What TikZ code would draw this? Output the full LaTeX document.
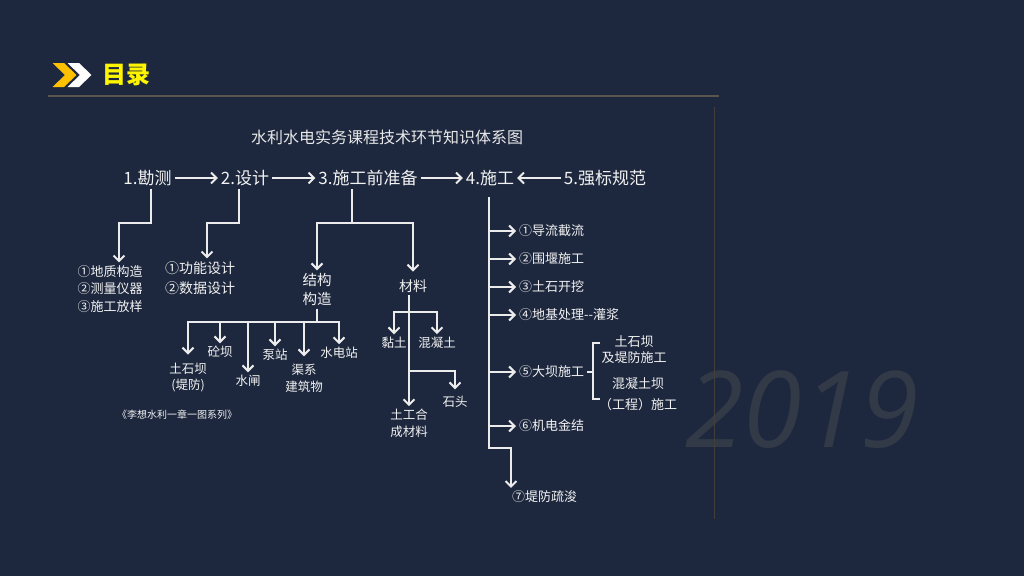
\documentclass[tikz,border=0pt]{standalone}
\usepackage{fontspec}
\setmainfont{Noto Sans CJK SC}
\newfontfamily\wmfont{Open Sans}
\usetikzlibrary{arrows.meta,calc}
\definecolor{bg}{RGB}{29,40,62}
\definecolor{fg}{RGB}{242,242,242}
\definecolor{ln}{RGB}{236,236,236}
\definecolor{sepc}{RGB}{90,84,78}
\definecolor{vlinec}{RGB}{66,62,58}
\definecolor{wmc}{RGB}{50,58,72}
\definecolor{chevy}{RGB}{255,192,0}
\definecolor{titley}{RGB}{255,245,0}
\definecolor{titlec}{RGB}{232,232,232}
\begin{document}
\begin{tikzpicture}[x=1pt,y=-1pt,
  lbl/.style={text=fg,inner sep=0pt,outer sep=3pt,align=center},
  fmain/.style={font=\fontsize{17}{20}\selectfont},
  fsm/.style={font=\fontsize{12.5}{16.5}\selectfont},
  fmd/.style={font=\fontsize{13}{17}\selectfont},
  conn/.style={draw=ln,line width=2pt},
  arr/.style={conn,-{Straight Barb[length=5.5pt,width=11pt]}}
]
\fill[bg] (0,0) rectangle (1024,576);
\useasboundingbox (0,0) rectangle (1024,576);
% header
\fill[chevy] (52.5,63) -- (64,63) -- (76.5,75) -- (64,87) -- (52.5,87) -- (65,75) -- cycle;
\fill[white] (67.5,63) -- (79,63) -- (91.5,75) -- (79,87) -- (67.5,87) -- (80,75) -- cycle;
\node[text=titley,inner sep=0pt,font=\fontsize{24}{26}\selectfont\bfseries] (hdr) at (126,75) {目录};
\draw[sepc,line width=2pt] (48,96) -- (719,96);
% watermark
\node[text=wmc,inner sep=0pt,font=\wmfont\itshape\fontsize{106}{110}\selectfont] (yr) at (802,410) {2019};
\draw[vlinec,line width=1pt] (714,107) -- (714,519);
% title
\node[lbl,text=titlec,font=\fontsize{16}{18}\selectfont] (ttl) at (387,137) {水利水电实务课程技术环节知识体系图};
% main row
\node[lbl,fmain] (n1) at (147.5,178) {1.勘测};
\node[lbl,fmain] (n2) at (245,178) {2.设计};
\node[lbl,fmain] (n3) at (368,178) {3.施工前准备};
\node[lbl,fmain] (n4) at (490,178) {4.施工};
\node[lbl,fmain] (n5) at (605,178) {5.强标规范};
\draw[arr] (n1) -- (n2);
\draw[arr] (n2) -- (n3);
\draw[arr] (n3) -- (n4);
\draw[arr] (n5) -- (n4);
% 1 and 2 lists
\node[lbl,align=left,font=\fontsize{13}{17.5}\selectfont] (l1) at (110,289) {①地质构造\\②测量仪器\\③施工放样};
\node[lbl,align=left,font=\fontsize{14}{20}\selectfont] (l2) at (200,278) {①功能设计\\②数据设计};
\coordinate (k1) at (119,223);
\coordinate (k2) at (207,223);
\draw[arr] ([xshift=3.5pt]n1.south) |- (k1) -- (k1 |- l1.north);
\draw[arr] ([xshift=-6pt]n2.south) |- (k2) -- (k2 |- l2.north);
% 3 branch
\node[lbl,font=\fontsize{14.5}{19}\selectfont] (s1) at (317,289.5) {结构\\构造};
\node[lbl,font=\fontsize{14}{18}\selectfont] (m1) at (413,286) {材料};
\coordinate (j3) at (352,223);
\draw[conn] ([xshift=-16pt]n3.south) -- (j3);
\draw[arr] (j3) -| (s1.north);
\draw[arr] (j3) -| ([yshift=5pt]m1.north);
% structure children
\node[lbl,fsm,font=\fontsize{12.5}{16}\selectfont] (c1) at (188,377) {土石坝\\(堤防)};
\node[lbl,fsm] (c2) at (220,352) {砼坝};
\node[lbl,fsm] (c3) at (248,381) {水闸};
\node[lbl,fsm] (c4) at (275,355) {泵站};
\node[lbl,fsm,font=\fontsize{12.5}{17}\selectfont] (c5) at (304,378.5) {渠系\\建筑物};
\node[lbl,fsm] (c6) at (339,353) {水电站};
\coordinate (j4) at (317,322);
\draw[conn] (s1.south) -- (j4);
\draw[arr] (j4) -| ([yshift=5pt]c1.north);
\draw[arr] (j4) -| (c2.north);
\draw[arr] (j4) -| (c3.north);
\draw[arr] (j4) -| (c4.north);
\draw[arr] (j4) -| ([yshift=5pt]c5.north);
\draw[arr] (j4) -| (c6.north);
% material children
\node[lbl,fsm,font=\fontsize{12.5}{17}\selectfont] (m5) at (409,423.5) {土工合\\成材料};
\node[lbl,fsm] (m2) at (394,343) {黏土};
\node[lbl,fsm] (m3) at (437,343) {混凝土};
\node[lbl,fsm] (m4) at (455,402) {石头};
\coordinate (j5) at (409,312);
\coordinate (j6) at (409,371);
\draw[arr] ([xshift=-4pt]m1.south) -- (m5.north);
\draw[arr] (j5) -| (m2.north);
\draw[arr] (j5) -| (m3.north);
\draw[arr] (j6) -| ([yshift=4pt]m4.north);
% construction branch
\node[lbl,fmd,anchor=west] (p1) at (516,231) {①导流截流};
\node[lbl,fmd,anchor=west] (p2) at (516,259) {②围堰施工};
\node[lbl,fmd,anchor=west] (p3) at (516,287) {③土石开挖};
\node[lbl,fmd,anchor=west] (p4) at (516,315) {④地基处理-{}-灌浆};
\node[lbl,fmd,anchor=west] (p5) at (516,372) {⑤大坝施工};
\node[lbl,fmd,anchor=west] (p6) at (516,426) {⑥机电金结};
\node[lbl,fmd,anchor=west] (p7) at (509,497) {⑦堤防疏浚};
\coordinate (t0) at (489,197);
\coordinate (j7) at (511,448);
\draw[arr] (t0) |- (j7) -- (j7 |- p7.north);
\foreach \p in {p1,p2,p3,p4,p5,p6} \draw[arr] (\p.west -| t0) -- (\p.west);
% bracket for dam construction
\coordinate (b0) at (593,372);
\coordinate (bt) at (593,343);
\coordinate (bb) at (593,399);
\draw[conn,line width=1.6pt] (p5.east) -- (b0);
\draw[conn,line width=1.6pt] ([xshift=7pt]bt) -- (bt) -- (bb) -- ([xshift=7pt]bb);
\node[lbl,font=\fontsize{13}{16}\selectfont] (q1) at (634,350) {土石坝\\及堤防施工};
\node[lbl,font=\fontsize{13}{21}\selectfont] (q2) at (638,394.5) {混凝土坝\\（工程）施工};
% caption
\node[lbl,font=\fontsize{10}{12}\selectfont] (cap) at (177,415) {《李想水利一章一图系列》};
\end{tikzpicture}
\end{document}
